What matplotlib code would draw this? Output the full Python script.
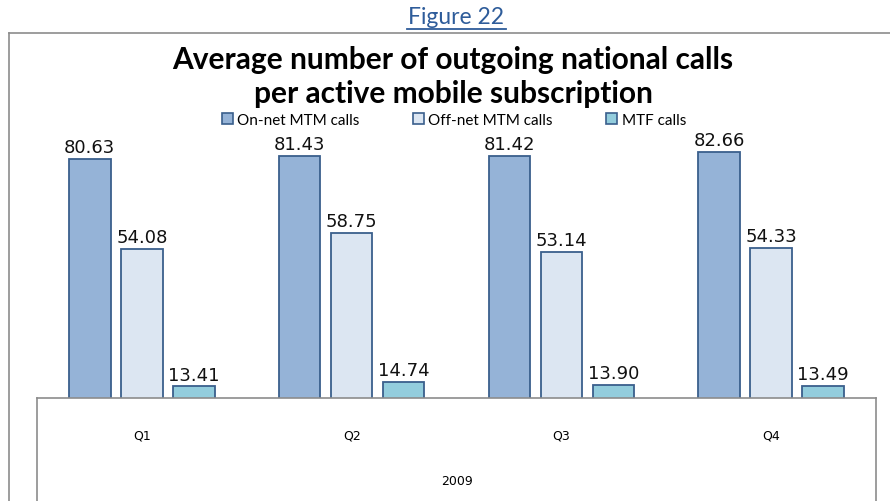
import numpy as np
import matplotlib.pyplot as plt
from matplotlib.patches import Patch
from matplotlib.lines import Line2D

quarters = ["Q1", "Q2", "Q3", "Q4"]
year = "2009"
series = ["On-net MTM calls", "Off-net MTM calls", "MTF calls"]
on_net = [80.63, 81.43, 81.42, 82.66]
off_net = [54.08, 58.75, 53.14, 54.33]
mtf = [13.41, 14.74, 13.90, 13.49]

colors = ["#95B3D7", "#DCE6F2", "#93CDDD"]
edge = "#3A5F8C"

W, H = 890, 502
fig = plt.figure(figsize=(W / 100, H / 100), dpi=100)
plt.rcParams['font.family'] = ['Lato', 'DejaVu Sans']

def fx(x):
    return x / W

def fy(y):
    return 1 - y / H

# plot area (pixel coords of reference)
left, right, base, top = 37, 876, 399, 128
ax = fig.add_axes([fx(left), fy(base), (right - left) / W, (base - top) / H])
ax.set_xlim(-0.5, 3.5)
ax.set_ylim(10, 90)
ax.axis("off")

x = np.arange(len(quarters))
w = 0.198
step = 0.248
for i, (vals, c) in enumerate(zip([on_net, off_net, mtf], colors)):
    bars = ax.bar(x + (i - 1) * step, vals, w, bottom=0, color=c,
                  edgecolor=edge, linewidth=1.3, zorder=2)
    ax.bar_label(bars, fmt="%.2f", padding=2, fontsize=13,
                 family="DejaVu Sans", color="#111111")

gray = "#8c8c8c"
# category axis box
for (x0, y0, x1, y1) in [(left, base, right, base), (left, base, left, H),
                         (right, base, right, H)]:
    fig.add_artist(Line2D([fx(x0), fx(x1)], [fy(y0), fy(y1)], color=gray, lw=1.2))
# outer chart border
for (x0, y0, x1, y1) in [(9, 34, W, 34), (9, 34, 9, H)]:
    fig.add_artist(Line2D([fx(x0), fx(x1)], [fy(y0), fy(y1)], color=gray, lw=1.2))

cat_w = (right - left) / 4
for i, q in enumerate(quarters):
    fig.text(fx(left + cat_w * (i + 0.5)), fy(436), q, ha="center", va="center",
             fontsize=9, family="DejaVu Sans")
fig.text(fx((left + right) / 2), fy(482), year, ha="center", va="center",
         fontsize=9, family="DejaVu Sans")

# heading
fig.text(fx(456), fy(17), "Figure 22", ha="center", va="center",
         fontsize=16.5, color="#2E5C9A")
fig.add_artist(Line2D([fx(407), fx(506)], [fy(30), fy(30)], color="#2E5C9A", lw=1.3))

fig.text(fx(453), fy(60), "Average number of outgoing national calls",
         ha="center", va="center", fontsize=21.5, fontweight="bold")
fig.text(fx(453), fy(94), "per active mobile subscription",
         ha="center", va="center", fontsize=21.5, fontweight="bold")

handles = [Patch(facecolor=c, edgecolor=edge, linewidth=1.2) for c in colors]
fig.legend(handles, series, loc="center", bbox_to_anchor=(fx(454), fy(121)),
           ncol=3, frameon=False, fontsize=11, handlelength=0.7,
           handleheight=0.7, handletextpad=0.3, columnspacing=3.5)

fig.savefig("out.png", dpi=100)
